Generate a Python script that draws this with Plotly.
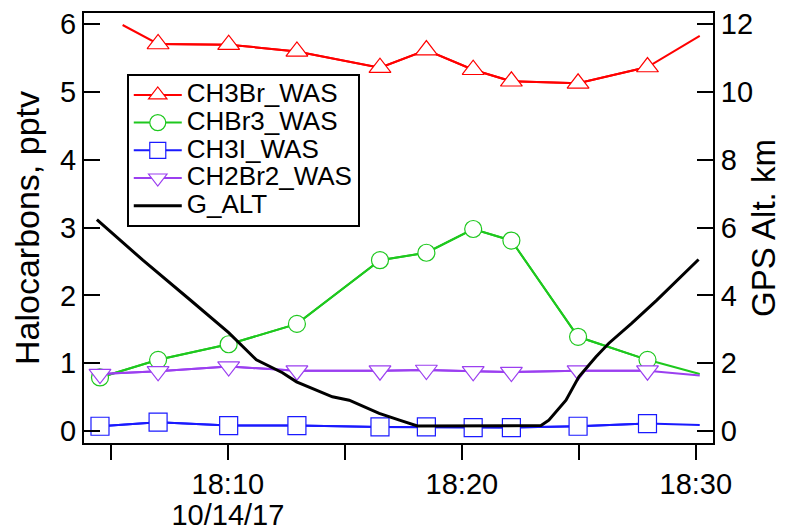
import plotly.graph_objects as go

DAY = "2017-10-14 "

# WAS sample times (CH3Br line starts later)
t_was = ["18:04:32", "18:07:01", "18:10:02", "18:12:57", "18:16:30", "18:18:29",
         "18:20:29", "18:22:07", "18:24:58", "18:27:56", "18:30:10"]
t_red = ["18:05:30", "18:07:01", "18:10:02", "18:12:57", "18:16:30", "18:18:29",
         "18:20:29", "18:22:07", "18:24:58", "18:27:56", "18:30:10"]

ch3br = [5.99, 5.71, 5.70, 5.60, 5.36, 5.62, 5.33, 5.16, 5.13, 5.37, 5.83]
chbr3 = [0.79, 1.05, 1.28, 1.58, 2.52, 2.63, 2.98, 2.81, 1.39, 1.05, 0.84]
ch3i = [0.07, 0.13, 0.08, 0.08, 0.06, 0.06, 0.05, 0.05, 0.07, 0.11, 0.09]
ch2br2 = [0.84, 0.88, 0.95, 0.89, 0.89, 0.90, 0.88, 0.87, 0.89, 0.89, 0.82]

alt_t = ["18:04:24", "18:06:22", "18:08:22", "18:10:02", "18:11:13", "18:12:20",
         "18:12:56", "18:14:28", "18:15:11", "18:16:28", "18:17:20", "18:18:06",
         "18:23:23", "18:23:43", "18:24:27", "18:25:00", "18:25:44", "18:26:17",
         "18:27:16", "18:28:20", "18:30:07"]
g_alt = [6.24, 5.04, 3.88, 2.90, 2.10, 1.72, 1.45, 1.01, 0.91, 0.52, 0.32, 0.15,
         0.16, 0.32, 0.91, 1.60, 2.19, 2.59, 3.18, 3.86, 5.06]

tick_times = ["18:05", "18:10", "18:15", "18:20", "18:25", "18:30"]
tick_labels = ["", "18:10", "", "18:20", "", "18:30"]
date_label = "10/14/17"

FONT = "Liberation Sans, Arial, Helvetica, sans-serif"
LEG = '<span style="font-size:26px">%s</span>'
TK = '<span style="font-size:29px">%s</span>'

tick_text = []
for lab in tick_labels:
    if lab == "18:10":
        tick_text.append(TK % lab + "<br>" + TK % date_label)
    elif lab:
        tick_text.append(TK % lab)
    else:
        tick_text.append("")

series = [
    ("CH3Br_WAS", t_red, ch3br, "#ff0000", "triangle-up", 19),
    ("CHBr3_WAS", t_was, chbr3, "#1ec81e", "circle", 17),
    ("CH3I_WAS", t_was, ch3i, "#1a1aff", "square", 18),
    ("CH2Br2_WAS", t_was, ch2br2, "#9b3ff0", "triangle-down", 19),
]

fig = go.Figure()
for name, tt, vals, col, sym, sz in series:
    xs = [DAY + s for s in tt]
    # full line, endpoints without markers
    fig.add_trace(go.Scatter(x=xs, y=vals, mode="lines", showlegend=False,
                             line=dict(color=col, width=2), hoverinfo="skip"))
    # markers at sample points
    lo = 1 if name == "CH3Br_WAS" else 0
    fig.add_trace(go.Scatter(x=xs[lo:-1], y=vals[lo:-1],
                             mode="lines+markers", name=LEG % name,
                             line=dict(color=col, width=2),
                             marker=dict(symbol=sym, size=sz, color="white",
                                         line=dict(color=col, width=1.2))))

fig.add_trace(go.Scatter(x=[DAY + s for s in alt_t], y=g_alt, mode="lines",
                         name=LEG % "G_ALT", yaxis="y2",
                         line=dict(color="black", width=3)))

fig.update_layout(
    width=787, height=532,
    margin=dict(l=84, r=74, t=13, b=89),
    paper_bgcolor="white", plot_bgcolor="white",
    font=dict(family=FONT, color="black", size=28),
    showlegend=True,
    legend=dict(x=0.068, y=0.858, xanchor="left", yanchor="top",
                bgcolor="white", bordercolor="black", borderwidth=2,
                font=dict(size=19, family=FONT), tracegroupgap=0,
                itemwidth=48),
    xaxis=dict(type="date", automargin=False,
               range=[DAY + "18:03:51", DAY + "18:30:44"],
               tickmode="array", tickvals=[DAY + s for s in tick_times],
               ticktext=tick_text, ticks="outside", ticklen=15, tickwidth=2,
               tickcolor="black", showline=True, linewidth=2, linecolor="black",
               mirror=True, showgrid=False, zeroline=False,
               ticklabelstandoff=5,
               tickfont=dict(size=24)),
    yaxis=dict(range=[-0.177, 6.167], tickmode="array", automargin=False,
               tickvals=[0, 1, 2, 3, 4, 5, 6], ticks="inside", ticklen=16,
               tickwidth=2, tickcolor="black", showline=True, linewidth=2,
               linecolor="black", showgrid=False, zeroline=False,
               title=dict(text="Halocarbons, pptv", font=dict(size=34),
                          standoff=10),
               tickfont=dict(size=29)),
    yaxis2=dict(range=[-0.354, 12.333], overlaying="y", side="right",
                automargin=False,
                tickmode="array", tickvals=[0, 2, 4, 6, 8, 10, 12],
                ticks="inside", ticklen=16, tickwidth=2, tickcolor="black",
                showline=True, linewidth=2, linecolor="black", showgrid=False,
                zeroline=False,
                title=dict(text="GPS Alt. km", font=dict(size=33), standoff=0),
                tickfont=dict(size=29)),
)

fig.write_html("out.html")
